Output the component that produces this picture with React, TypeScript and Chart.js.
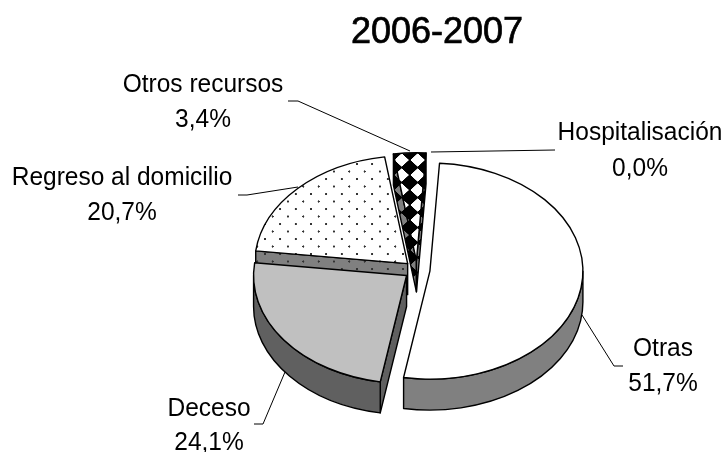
import React, { useEffect, useRef } from "react";
import { Chart, registerables } from "chart.js";

Chart.register(...registerables);

const categories = ["Otras", "Deceso", "Regreso al domicilio", "Otros recursos", "Hospitalisación"];
const values = [51.7, 24.1, 20.7, 3.4, 0.0];
const title = "2006-2007";

const LABEL_FONT = '"Liberation Sans", sans-serif';
const labelPos: Record<string, number[]> = {
  "Otras": [663, 356, 391],
  "Deceso": [209, 416, 450],
  "Regreso al domicilio": [122, 185, 220],
  "Otros recursos": [203, 92, 127],
  "Hospitalisación": [640, 140, 176],
};
const leaders: Record<string, number[][]> = {
  "Otras": [[582, 315], [614, 366], [623, 366]],
  "Deceso": [[285, 372], [263, 424], [254, 424]],
  "Regreso al domicilio": [[298, 187], [247, 195], [238, 195]],
  "Otros recursos": [[410, 151], [298, 101], [288, 101]],
  "Hospitalisación": [[431, 152], [555, 150]],
};

const SQUASH = 0.706;
const DEPTH = 31;
const EXPLODE = 13;
const DRAW_ORDER = ["Otros recursos", "Regreso al domicilio", "Deceso", "Otras"];

function cellCanvas(w: number, h: number, paint: (c: CanvasRenderingContext2D) => void) {
  const cv = document.createElement("canvas");
  cv.width = w;
  cv.height = h;
  paint(cv.getContext("2d")!);
  return cv;
}
const diamond = (c: CanvasRenderingContext2D, x: number, y: number, rx: number, ry: number) => {
  c.beginPath();
  c.moveTo(x - rx, y);
  c.lineTo(x, y - ry);
  c.lineTo(x + rx, y);
  c.lineTo(x, y + ry);
  c.closePath();
  c.fill();
};
const dotCell = (bg: string) =>
  cellCanvas(46, 45, (c) => {
    c.fillStyle = bg;
    c.fillRect(0, 0, 46, 45);
    c.fillStyle = "#333";
    for (const [x, y] of [[0, 0], [46, 0], [0, 45], [46, 45], [23, 22.5]]) {
      c.beginPath();
      c.arc(x, y, 3.2, 0, Math.PI * 2);
      c.fill();
    }
  });
const checkCell = (bg: string, fg: string) =>
  cellCanvas(48, 45, (c) => {
    c.fillStyle = bg;
    c.fillRect(0, 0, 48, 45);
    c.fillStyle = fg;
    for (const [x, y] of [[0, 0], [48, 0], [0, 45], [48, 45]]) diamond(c, x, y, 22, 20);
  });

export default function App() {
  const ref = useRef<HTMLCanvasElement>(null);
  useEffect(() => {
    const canvas = ref.current!;
    const ctx0 = canvas.getContext("2d")!;
    const faceCells: Record<string, [HTMLCanvasElement, number, number, number]> = {
      "Regreso al domicilio": [dotCell("#fff"), 280.3, 224, 1 / 3],
      "Otros recursos": [checkCell("#000", "#fff"), 401.7, 160, 1 / 3],
    };
    const wallFill: Record<string, () => string | CanvasPattern> = {
      "Otras": () => "#808080",
      "Deceso": () => "#606060",
      "Regreso al domicilio": () => {
        const p = ctx0.createPattern(dotCell("#808080"), "repeat")!;
        p.setTransform(new DOMMatrix().translateSelf(280.3, 224).scaleSelf(1 / 3, 1 / 3));
        return p;
      },
      "Otros recursos": () => {
        const p = ctx0.createPattern(checkCell("#000", "#808080"), "repeat")!;
        p.setTransform(new DOMMatrix().translateSelf(401.7, 160).scaleSelf(1 / 3, 1 / 3));
        return p;
      },
    };

    const pie3d = {
      id: "pie3d",
      beforeDatasetDraw(chart: any) {
        const ctx: CanvasRenderingContext2D = chart.ctx;
        const arcs = chart.getDatasetMeta(0).data;
        const baseY = arcs[0].y as number;
        for (const name of DRAW_ORDER) {
          const i = categories.indexOf(name);
          const arc = arcs[i];
          const { x, startAngle: a0, endAngle: a1, outerRadius: r } = arc;
          const mid = (a0 + a1) / 2;
          const cx = x + Math.cos(mid) * EXPLODE;
          const cy = baseY + Math.sin(mid) * EXPLODE * SQUASH;
          const ry = r * SQUASH;
          const px = (a: number) => cx + r * Math.cos(a);
          const py = (a: number) => cy + ry * Math.sin(a);
          ctx.save();
          ctx.lineJoin = "round";
          ctx.strokeStyle = "#000";
          ctx.lineWidth = 1.4;
          ctx.fillStyle = wallFill[name]();
          const radial = (a: number) => {
            ctx.beginPath();
            ctx.moveTo(cx, cy);
            ctx.lineTo(px(a), py(a));
            ctx.lineTo(px(a), py(a) + DEPTH);
            ctx.lineTo(cx, cy + DEPTH);
            ctx.closePath();
            ctx.fill();
            ctx.stroke();
          };
          if (Math.cos(a0) < 0) radial(a0);
          if (Math.cos(a1) > 0) radial(a1);
          const from = Math.max(a0, 0);
          const to = Math.min(a1, Math.PI);
          if (to > from) {
            ctx.beginPath();
            ctx.ellipse(cx, cy, r, ry, 0, from, to);
            ctx.lineTo(px(to), py(to) + DEPTH);
            ctx.ellipse(cx, cy + DEPTH, r, ry, 0, to, from, true);
            ctx.closePath();
            ctx.fill();
            ctx.stroke();
          }
          ctx.save();
          ctx.translate(cx, cy);
          ctx.scale(1, SQUASH);
          ctx.translate(-x, -baseY);
          const cell = faceCells[name];
          const savedBg = arc.options.backgroundColor;
          if (cell) {
            const p = ctx.createPattern(cell[0], "repeat")!;
            p.setTransform(
              ctx.getTransform().invertSelf().translateSelf(cell[1], cell[2]).scaleSelf(cell[3], cell[3])
            );
            arc.options.backgroundColor = p;
          }
          arc.draw(ctx);
          arc.options.backgroundColor = savedBg;
          ctx.restore();
          ctx.beginPath();
          ctx.moveTo(cx, cy);
          ctx.ellipse(cx, cy, r, ry, 0, a0, a1);
          ctx.closePath();
          ctx.stroke();
          ctx.restore();
        }
        return false;
      },
      afterDraw(chart: any) {
        const ctx: CanvasRenderingContext2D = chart.ctx;
        ctx.save();
        ctx.strokeStyle = "#000";
        ctx.lineWidth = 1;
        for (const name of categories) {
          const pts = leaders[name];
          ctx.beginPath();
          pts.forEach((p, i) => (i ? ctx.lineTo(p[0], p[1]) : ctx.moveTo(p[0], p[1])));
          ctx.stroke();
        }
        ctx.fillStyle = "#000";
        ctx.textAlign = "center";
        ctx.textBaseline = "alphabetic";
        ctx.font = `25px ${LABEL_FONT}`;
        const put = (text: string, lx: number, y: number) => {
          ctx.save();
          ctx.translate(lx, y);
          ctx.scale(0.98, 1);
          ctx.fillText(text, 0, 0);
          ctx.restore();
        };
        categories.forEach((name, i) => {
          const [lx, y1, y2] = labelPos[name];
          put(name, lx, y1);
          put(values[i].toFixed(1).replace(".", ",") + "%", lx, y2);
        });
        ctx.font = `36px ${LABEL_FONT}`;
        ctx.lineWidth = 0.7;
        ctx.fillText(title, 437, 43);
        ctx.strokeText(title, 437, 43);
        ctx.restore();
      },
    };

    const chart = new Chart(canvas, {
      type: "pie",
      data: {
        labels: categories,
        datasets: [
          {
            data: values,
            backgroundColor: ["#ffffff", "#c0c0c0", "#ffffff", "#ffffff", "#000000"],
            borderWidth: 0,
          },
        ],
      },
      options: {
        responsive: false,
        animation: false,
        rotation: 3.6,
        radius: 153,
        layout: { padding: { left: 107, right: 0, top: 88, bottom: 0 } },
        plugins: { legend: { display: false }, title: { display: false }, tooltip: { enabled: false } },
      },
      plugins: [pie3d],
    } as any);
    return () => chart.destroy();
  }, []);
  return (
    <canvas
      ref={ref}
      width={727}
      height={452}
      style={{ position: "fixed", left: 0, top: 0, width: 727, height: 452, display: "block", background: "#fff" }}
    />
  );
}
